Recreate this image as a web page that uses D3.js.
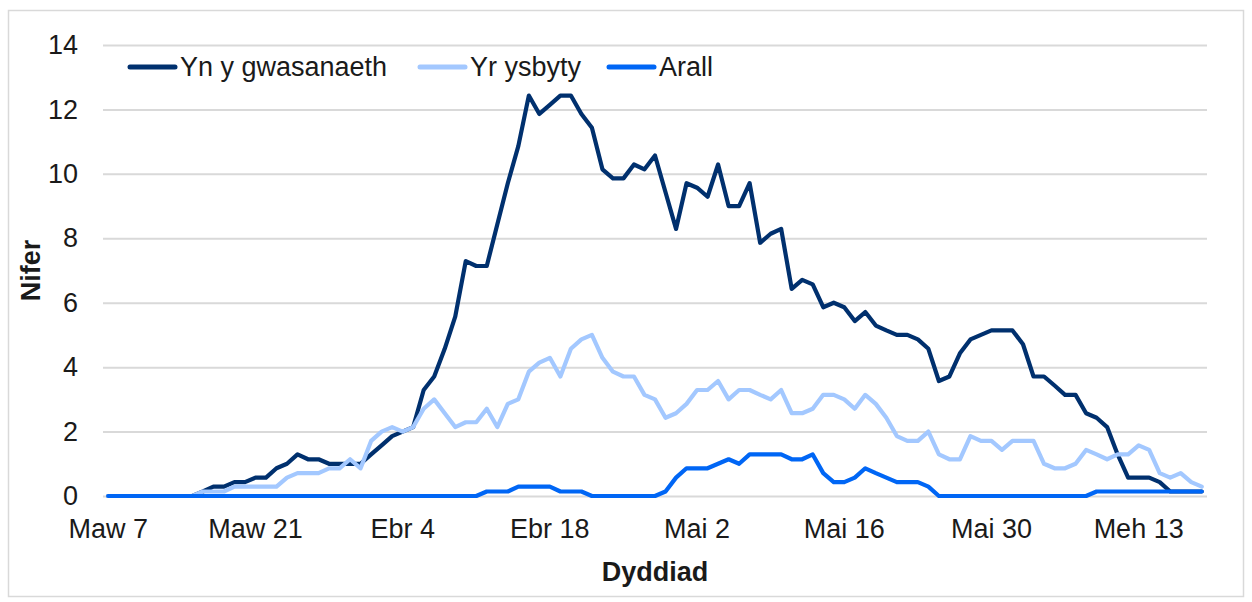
<!DOCTYPE html>
<html>
<head>
<meta charset="utf-8">
<script src="https://cdn.jsdelivr.net/npm/d3@7"></script>
<style>
  body { margin: 0; background: #fff; }
  svg { display: block; font-family: "Liberation Sans", Arial, sans-serif; }
</style>
</head>
<body>
<script>
// 7-day averages, one value per day from Mawrth 7 to Mehefin 19
var seriesNames = ["Yn y gwasanaeth", "Yr ysbyty", "Arall"];
var seriesColors = ["#00306e", "#a3c8ff", "#0066f5"];

var ynYGwasanaeth = [0,0,0,0,0,0,0,0,0,0.14,
  0.29,0.29,0.43,0.43,0.57,0.57,0.86,1.0,1.29,1.14,
  1.14,1.0,1.0,1.0,1.0,1.29,1.57,1.86,2.0,2.14,
  3.29,3.71,4.57,5.57,7.29,7.14,7.14,8.43,9.71,10.86,
  12.43,11.86,12.14,12.43,12.43,11.86,11.43,10.14,9.86,9.86,
  10.29,10.14,10.57,9.43,8.29,9.71,9.57,9.29,10.29,9.0,
  9.0,9.71,7.86,8.14,8.29,6.43,6.71,6.57,5.86,6.0,
  5.86,5.43,5.71,5.29,5.14,5.0,5.0,4.86,4.57,3.57,
  3.71,4.43,4.86,5.0,5.14,5.14,5.14,4.71,3.71,3.71,
  3.43,3.14,3.14,2.57,2.43,2.14,1.29,0.57,0.57,0.57,
  0.43,0.14,0.14,0.14,0.14];

var yrYsbyty = [0,0,0,0,0,0,0,0,0,0.14,
  0.14,0.14,0.29,0.29,0.29,0.29,0.29,0.57,0.71,0.71,
  0.71,0.86,0.86,1.14,0.86,1.71,2.0,2.14,2.0,2.14,
  2.71,3.0,2.57,2.14,2.29,2.29,2.71,2.14,2.86,3.0,
  3.86,4.14,4.29,3.71,4.57,4.86,5.0,4.29,3.86,3.71,
  3.71,3.14,3.0,2.43,2.57,2.86,3.29,3.29,3.57,3.0,
  3.29,3.29,3.14,3.0,3.29,2.57,2.57,2.71,3.14,3.14,
  3.0,2.71,3.14,2.86,2.43,1.86,1.71,1.71,2.0,1.29,
  1.14,1.14,1.86,1.71,1.71,1.43,1.71,1.71,1.71,1.0,
  0.86,0.86,1.0,1.43,1.29,1.14,1.29,1.29,1.57,1.43,
  0.71,0.57,0.71,0.43,0.29];

var arall = [0,0,0,0,0,0,0,0,0,0,
  0,0,0,0,0,0,0,0,0,0,
  0,0,0,0,0,0,0,0,0,0,
  0,0,0,0,0,0,0.14,0.14,0.14,0.29,
  0.29,0.29,0.29,0.14,0.14,0.14,0,0,0,0,
  0,0,0,0.14,0.57,0.86,0.86,0.86,1.0,1.14,
  1.0,1.29,1.29,1.29,1.29,1.14,1.14,1.29,0.71,0.43,
  0.43,0.57,0.86,0.71,0.57,0.43,0.43,0.43,0.29,0,
  0,0,0,0,0,0,0,0,0,0,
  0,0,0,0,0.14,0.14,0.14,0.14,0.14,0.14,
  0.14,0.14,0.14,0.14,0.14];

var tickLabels = ["Maw 7", "Maw 21", "Ebr 4", "Ebr 18", "Mai 2", "Mai 16", "Mai 30", "Meh 13"];
var yTicks = [0, 2, 4, 6, 8, 10, 12, 14];

var dates = d3.timeDay.range(new Date(2020, 2, 7), new Date(2020, 5, 20));

var width = 1252;
var height = 602;
var plot = { left: 103, right: 1207, top: 45, bottom: 496 };
var fontSize = 27;

var svg = d3.select("body").append("svg")
    .attr("width", width)
    .attr("height", height);

svg.append("rect")
    .attr("x", 8.5)
    .attr("y", 10.5)
    .attr("width", 1235)
    .attr("height", 586)
    .attr("fill", "#fff")
    .attr("stroke", "#d9d9d9")
    .attr("stroke-width", 1.5);

var xScale = d3.scaleBand()
    .domain(dates)
    .range([plot.left, plot.right]);
var yScale = d3.scaleLinear()
    .domain([0, 14])
    .range([plot.bottom, plot.top]);

function xPos(d) {
    return xScale(d) + xScale.bandwidth() / 2;
}

// y axis + gridlines
var yAxis = d3.axisLeft(yScale)
    .tickValues(yTicks)
    .tickSize(-(plot.right - plot.left))
    .tickPadding(25);

var yAxisG = svg.append("g")
    .attr("transform", "translate(" + plot.left + ",0)")
    .call(yAxis);
yAxisG.select(".domain").remove();
yAxisG.selectAll("line")
    .attr("stroke", "#d9d9d9")
    .attr("stroke-width", 2);
yAxisG.selectAll("text")
    .attr("fill", "#1a1a1a")
    .style("font-size", fontSize + "px")
    .style("font-family", "'Liberation Sans', Arial, sans-serif");

// x axis
var tickDates = dates.filter(function(d, i) { return i % 14 === 0; });
var xAxis = d3.axisBottom(xScale)
    .tickValues(tickDates)
    .tickFormat(function(d, i) { return tickLabels[i]; })
    .tickSize(0)
    .tickPadding(23);

var xAxisG = svg.append("g")
    .attr("transform", "translate(0," + plot.bottom + ")")
    .call(xAxis);
xAxisG.select(".domain").remove();
xAxisG.selectAll("text")
    .attr("fill", "#1a1a1a")
    .style("font-size", fontSize + "px")
    .style("font-family", "'Liberation Sans', Arial, sans-serif");

// axis titles
svg.append("text")
    .attr("x", (plot.left + plot.right) / 2)
    .attr("y", 581)
    .attr("text-anchor", "middle")
    .attr("font-weight", "bold")
    .attr("font-size", fontSize)
    .attr("fill", "#1a1a1a")
    .text("Dyddiad");

svg.append("text")
    .attr("transform", "translate(40," + ((plot.top + plot.bottom) / 2) + ") rotate(-90)")
    .attr("text-anchor", "middle")
    .attr("font-weight", "bold")
    .attr("font-size", fontSize)
    .attr("fill", "#1a1a1a")
    .text("Nifer");

// lines
var allSeries = [ynYGwasanaeth, yrYsbyty, arall];
var line = d3.line()
    .x(function(d, i) { return xPos(dates[i]); })
    .y(function(d) { return yScale(d); });

svg.append("g")
    .selectAll("path")
    .data(allSeries)
    .enter()
    .append("path")
    .attr("d", line)
    .attr("fill", "none")
    .attr("stroke", function(d, i) { return seriesColors[i]; })
    .attr("stroke-width", 4.2)
    .attr("stroke-linejoin", "round")
    .attr("stroke-linecap", "round");

// legend
var legendX = [128, 418, 607];
var legend = svg.append("g")
    .selectAll("g")
    .data(seriesNames)
    .enter()
    .append("g")
    .attr("transform", function(d, i) { return "translate(" + legendX[i] + ",67)"; });

legend.append("line")
    .attr("x1", 2)
    .attr("x2", 47)
    .attr("stroke", function(d, i) { return seriesColors[i]; })
    .attr("stroke-width", 5)
    .attr("stroke-linecap", "round");

legend.append("text")
    .attr("x", 52)
    .attr("dy", "0.35em")
    .attr("font-size", fontSize)
    .attr("fill", "#1a1a1a")
    .text(function(d) { return d; });
</script>
</body>
</html>
